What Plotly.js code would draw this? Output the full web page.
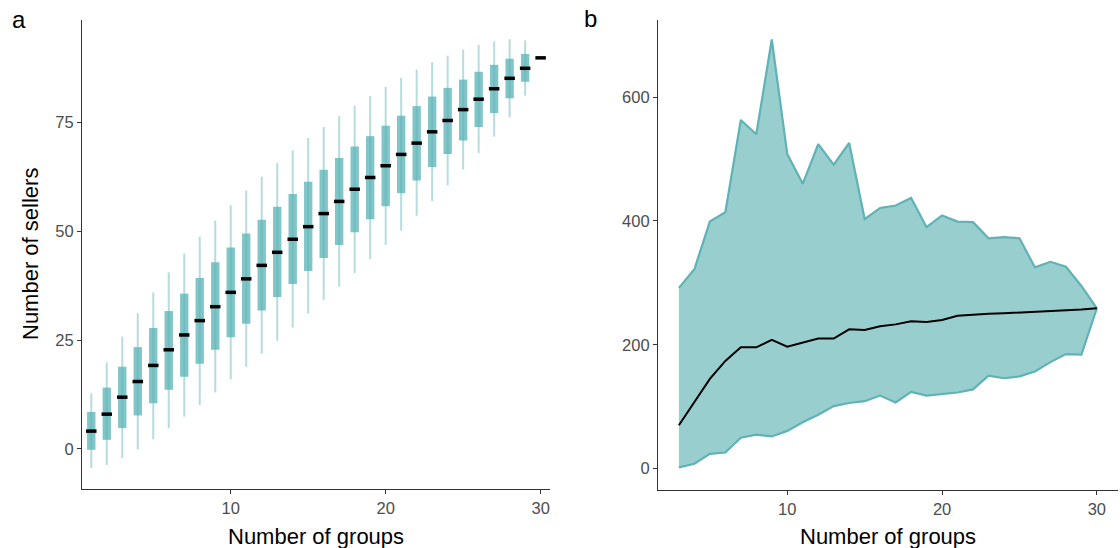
<!DOCTYPE html>
<html>
<head>
<meta charset="utf-8">
<script src="https://cdn.plot.ly/plotly-3.0.1.min.js"></script>
<style>html,body{margin:0;padding:0;background:#fff;}#chart{width:1120px;height:548px;}</style>
</head>
<body>
<div id="chart"></div>
<script>
// Panel a: distribution of number of sellers by number of groups
const groupsA = [1,2,3,4,5,6,7,8,9,10,11,12,13,14,15,16,17,18,19,20,21,22,23,24,25,26,27,28,29,30];
const lowA  = [-4.4,-3.7,-2.1,-0.1,2.2,4.8,7.4,10.1,13.0,16.0,18.9,21.9,24.9,27.9,31.1,34.3,37.3,40.4,43.6,46.9,50.2,53.6,57.0,60.6,64.2,68.0,71.8,76.2,81.2,89.9];
const q1A   = [-0.2,2.1,4.8,7.7,10.5,13.6,16.6,19.6,22.8,25.7,28.8,31.8,34.9,37.9,40.9,43.9,46.9,49.8,52.8,55.8,58.8,61.7,64.8,67.8,70.9,74.0,77.2,80.6,84.4,89.9];
const medA  = [4.1,8.0,11.9,15.5,19.2,22.8,26.2,29.5,32.7,36.0,39.1,42.2,45.2,48.2,51.1,54.1,56.9,59.7,62.4,65.1,67.7,70.3,72.9,75.5,78.0,80.4,82.8,85.2,87.5,89.9];
const q3A   = [8.5,14.1,18.9,23.4,27.8,31.7,35.7,39.3,42.9,46.3,49.5,52.7,55.7,58.6,61.4,64.2,66.9,69.5,71.9,74.3,76.6,78.8,81.0,83.0,84.9,86.7,88.3,89.7,90.8,89.9];
const highA = [12.8,19.9,25.8,31.2,36.0,40.6,44.9,48.8,52.5,56.0,59.4,62.6,65.7,68.6,71.5,74.0,76.5,78.9,81.1,83.2,85.3,87.2,88.9,90.4,91.8,92.9,93.7,94.2,93.9,89.9];
const ticksAx = [10,20,30];
const ticksAy = [0,25,50,75];

// Panel b: range and median by number of groups
const groupsB = [3,4,5,6,7,8,9,10,11,12,13,14,15,16,17,18,19,20,21,22,23,24,25,26,27,28,29,30];
const upperB  = [292,322,399,414,563,540,693,508,460,524,491,526,403,421,425,437,390,409,399,398,372,374,372,325,334,326,295,259];
const medianB = [70,108,145,174,196,196,208,197,203,210,210,225,224,230,233,238,237,240,247,249,250,251,252,253,254,255,257,259];
const lowerB  = [2,8,24,26,50,55,52,61,75,87,101,106,109,118,107,124,118,120,123,128,150,146,149,157,172,185,184,259];
const ticksBx = [10,20,30];
const ticksBy = [0,200,400,600];

const teal = '#5fb2b5';
const traces = [
  { type:'bar', x: groupsA, base: q1A, y: q3A.map((v,i)=>v-q1A[i]), width: 0.54,
    marker:{color:'#80c5c7', line:{width:0}}, xaxis:'x', yaxis:'y', hoverinfo:'skip', showlegend:false },
  { type:'bar', x: groupsA, base: lowA, y: highA.map((v,i)=>v-lowA[i]), width: 0.13,
    marker:{color:'rgba(95,178,181,0.45)', line:{width:0}}, xaxis:'x', yaxis:'y', hoverinfo:'skip', showlegend:false },
  { type:'scatter', mode:'markers', x: groupsA, y: medA,
    marker:{symbol:'line-ew', size:7.5, color:'#000', line:{color:'#000', width:3.5}},
    xaxis:'x', yaxis:'y', showlegend:false },
  { type:'scatter', mode:'lines', x: groupsB, y: lowerB, line:{color:teal, width:2.2},
    xaxis:'x2', yaxis:'y2', showlegend:false },
  { type:'scatter', mode:'lines', x: groupsB, y: upperB, fill:'tonexty', fillcolor:'#99cecf',
    line:{color:teal, width:2.2}, xaxis:'x2', yaxis:'y2', showlegend:false },
  { type:'scatter', mode:'lines', x: groupsB, y: medianB, line:{color:'#000', width:2},
    xaxis:'x2', yaxis:'y2', showlegend:false }
];

const tickFont = {family:'Liberation Sans, Arial, sans-serif', size:16.5, color:'#4d4d4d'};
const axisCommon = {showgrid:false, zeroline:false, showline:true, linecolor:'#333', linewidth:1.1,
  ticks:'outside', ticklen:4, tickwidth:1, tickcolor:'#333', tickfont:tickFont, fixedrange:true};

const titleFont = {family:'Liberation Sans, Arial, sans-serif', size:22, color:'#000'};
const layout = {
  width:1120, height:548, margin:{l:0,r:0,t:0,b:0},
  paper_bgcolor:'#fff', plot_bgcolor:'#fff', barmode:'overlay', showlegend:false,
  xaxis: Object.assign({}, axisCommon, {domain:[0.0732,0.491], range:[0.4,30.6], tickvals:ticksAx, anchor:'y'}),
  yaxis: Object.assign({}, axisCommon, {domain:[0.1077,0.9635], range:[-9.2,98.6], tickvals:ticksAy, anchor:'x'}),
  xaxis2: Object.assign({}, axisCommon, {domain:[0.5875,0.998], range:[1.65,31.35], tickvals:ticksBx, anchor:'y2'}),
  yaxis2: Object.assign({}, axisCommon, {domain:[0.1058,0.9635], range:[-34.5,724.5], tickvals:ticksBy, anchor:'x2'}),
  annotations: [
    {text:'Number of groups', xref:'paper', yref:'paper', x:316/1120, y:(548-536)/548, xanchor:'center', yanchor:'middle', showarrow:false, font:titleFont},
    {text:'Number of groups', xref:'paper', yref:'paper', x:888/1120, y:(548-536)/548, xanchor:'center', yanchor:'middle', showarrow:false, font:titleFont},
    {text:'Number of sellers', xref:'paper', yref:'paper', x:30/1120, y:(548-254)/548, xanchor:'center', yanchor:'middle', textangle:-90, showarrow:false, font:titleFont},
    {text:'a', xref:'paper', yref:'paper', x:19/1120, y:(548-20)/548, xanchor:'center', yanchor:'middle', showarrow:false, font:{family:'Liberation Sans, Arial, sans-serif', size:24, color:'#000'}},
    {text:'b', xref:'paper', yref:'paper', x:590/1120, y:(548-18)/548, xanchor:'center', yanchor:'middle', showarrow:false, font:{family:'Liberation Sans, Arial, sans-serif', size:24, color:'#000'}}
  ]
};

Plotly.newPlot('chart', traces, layout, {displayModeBar:false, staticPlot:true});
</script>
</body>
</html>
